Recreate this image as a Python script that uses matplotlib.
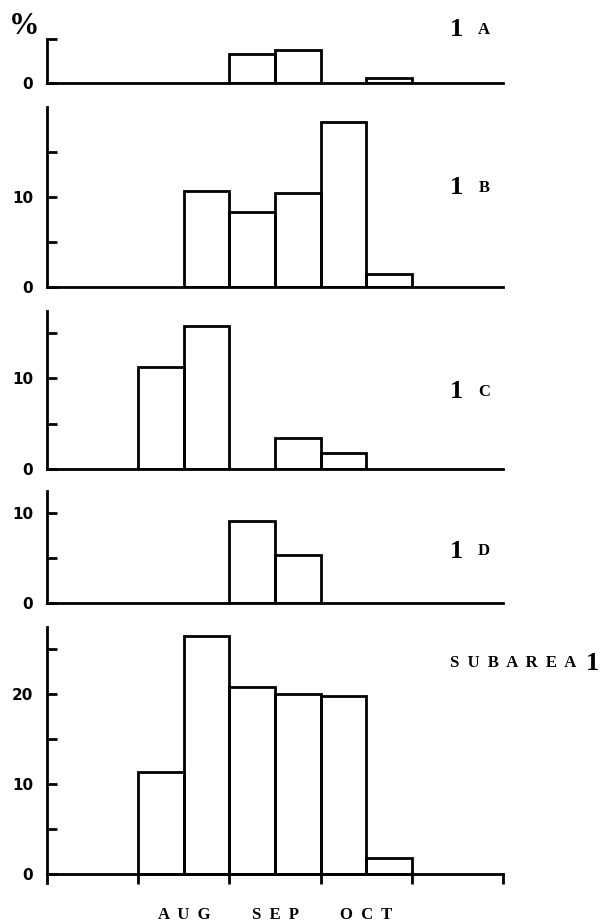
import numpy as np
import matplotlib.pyplot as plt
from matplotlib.ticker import FixedLocator, NullFormatter, FixedFormatter

# half-month periods, Jul 1 = 0 on the month axis
periods = ["Aug 1-15", "Aug 16-31", "Sep 1-15", "Sep 16-30", "Oct 1-15", "Oct 16-31"]
months = ["AUG", "SEP", "OCT"]

pct_1a = [0, 0, 3.3, 3.8, 0, 0.6]
pct_1b = [0, 10.7, 8.3, 10.4, 18.3, 1.4]
pct_1c = [11.2, 15.7, 0, 3.4, 1.8, 0]
pct_1d = [0, 0, 9.1, 5.3, 0, 0]
pct_sub = [11.3, 26.4, 20.7, 20.0, 19.7, 1.8]

W, H = 606, 923
fig = plt.figure(figsize=(W / 100, H / 100), dpi=100)
LW = 2.0
SERIF = "Liberation Serif"


def px_axes(left, top, right, bottom):
    return fig.add_axes([left / W, 1 - bottom / H, (right - left) / W, (bottom - top) / H])


def fig_text(x, y, s, **kw):
    fig.text(x / W, 1 - y / H, s, **kw)


def spaced(s):
    return "  ".join(s)


# (values, ylim bottom, ylim top, major ticks, minor ticks, top px, bottom px, label, label y px)
panels = [
    (pct_1a, 0, 5, [0], [5], 39, 83, "A", 30),
    (pct_1b, 0, 20, [0, 10], [5, 15], 107, 287, "B", 188),
    (pct_1c, 0, 17.4, [0, 10], [5, 15], 311, 469, "C", 392),
    (pct_1d, 0, 12.4, [0, 10], [5], 491, 603, "D", 551),
    (pct_sub, -1, 27.4, [0, 10, 20], [5, 15, 25], 627, 883, None, 663),
]

x0 = 1.0 + 0.5 * np.arange(len(periods))

for vals, ylo, yhi, major, minor, top, bot, name, ly in panels:
    ax = px_axes(47, top, 503, bot)
    vals = np.array(vals)
    keep = vals > 0
    ax.bar(x0[keep], vals[keep], width=0.5, align="edge", fill=False,
           edgecolor="black", linewidth=LW)
    ax.set_xlim(0, 5)
    ax.set_ylim(ylo, yhi)
    for s in ["top", "right"]:
        ax.spines[s].set_visible(False)
    for s in ["left", "bottom"]:
        ax.spines[s].set_linewidth(LW)
    ax.spines["bottom"].set_position(("data", 0))

    ax.yaxis.set_major_locator(FixedLocator(major))
    ax.yaxis.set_minor_locator(FixedLocator(minor))
    ax.yaxis.set_minor_formatter(NullFormatter())
    ax.tick_params(axis="y", which="both", direction="in", length=7, width=LW,
                   pad=10, labelsize=11)
    for t in ax.get_yticklabels():
        t.set_fontweight("bold")

    if name is None:
        ax.xaxis.set_major_locator(FixedLocator([1, 2, 3, 4, 5]))
        ax.xaxis.set_major_formatter(NullFormatter())
        ax.xaxis.set_minor_locator(FixedLocator(np.arange(len(months)) + 1.5))
        ax.xaxis.set_minor_formatter(FixedFormatter([spaced(m) for m in months]))
        ax.tick_params(axis="x", which="major", direction="out", length=7, width=LW)
        ax.tick_params(axis="x", which="minor", length=0, pad=24, labelsize=12)
        for t in ax.xaxis.get_minorticklabels():
            t.set_fontfamily(SERIF)
            t.set_fontweight("bold")
        fig_text(450, ly, spaced("SUBAREA"), fontsize=12, fontweight="bold",
                 family=SERIF, ha="left", va="center")
        fig_text(593, ly, "1", fontsize=19, fontweight="bold",
                 family=SERIF, ha="center", va="center")
    else:
        ax.set_xticks([])
        fig_text(456, ly, "1", fontsize=19, fontweight="bold",
                 family=SERIF, ha="center", va="center")
        fig_text(484, ly, name, fontsize=12, fontweight="bold",
                 family=SERIF, ha="center", va="center")

fig_text(24, 27, "%", fontsize=22, fontweight="bold", family=SERIF,
         ha="center", va="center")

fig.savefig("out.png", dpi=100)
